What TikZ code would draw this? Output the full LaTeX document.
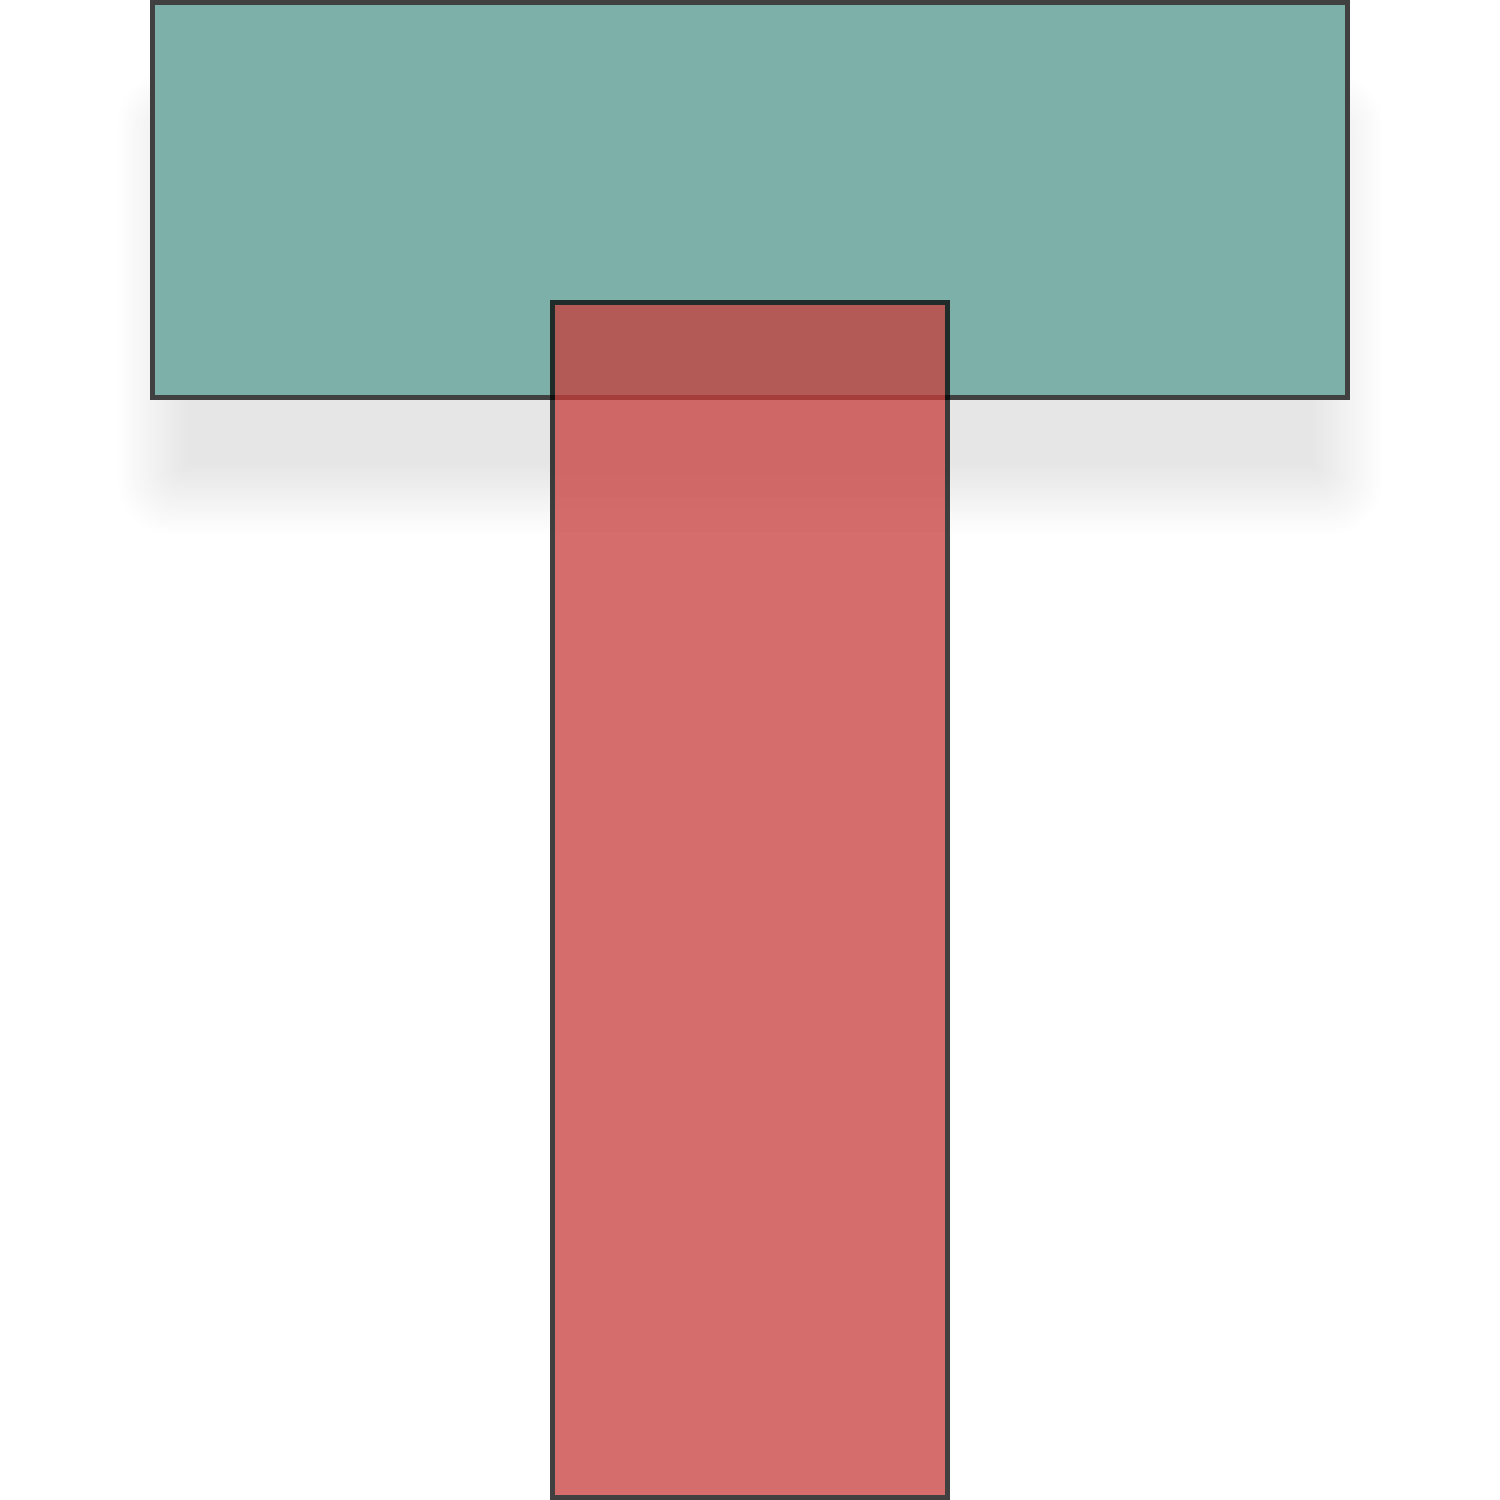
\documentclass[tikz,border=0pt]{standalone}
\usepackage{tikz}
\definecolor{tealfill}{RGB}{124,176,168}
\definecolor{redfill}{RGB}{198,60,59}
\definecolor{edgegray}{RGB}{64,64,64}
\tikzset{
  topbar/.style={fill=tealfill,draw=edgegray,line width=2.5pt},
  stemfill/.style={fill=redfill,fill opacity=0.75,draw=none},
  stemedge/.style={draw=black,draw opacity=0.75,line width=2.5pt},
  shadowlayer/.style={fill=black,fill opacity=0.0058,draw=none}
}
\begin{document}
\begin{tikzpicture}[x=0.5pt,y=-0.5pt]
\useasboundingbox (0,0) rectangle (1500,1500);
% blurred shadow of the top bar
\foreach \k in {1,...,25}{
  \pgfmathsetmacro{\d}{-36+(\k-0.5)*2.88}
  \pgfmathsetmacro{\rr}{(36-\d)*0.4}
  \fill[shadowlayer,rounded corners=\rr pt] (152+\d,105+\d) rectangle (1348-\d,500-\d);
}
% top bar
\draw[topbar] (152.5,2.5) rectangle (1347.5,397.5);
% stem
\fill[stemfill] (555,305) rectangle (945,1495);
\draw[stemedge] (552.5,302.5) rectangle (947.5,1497.5);
\end{tikzpicture}
\end{document}
